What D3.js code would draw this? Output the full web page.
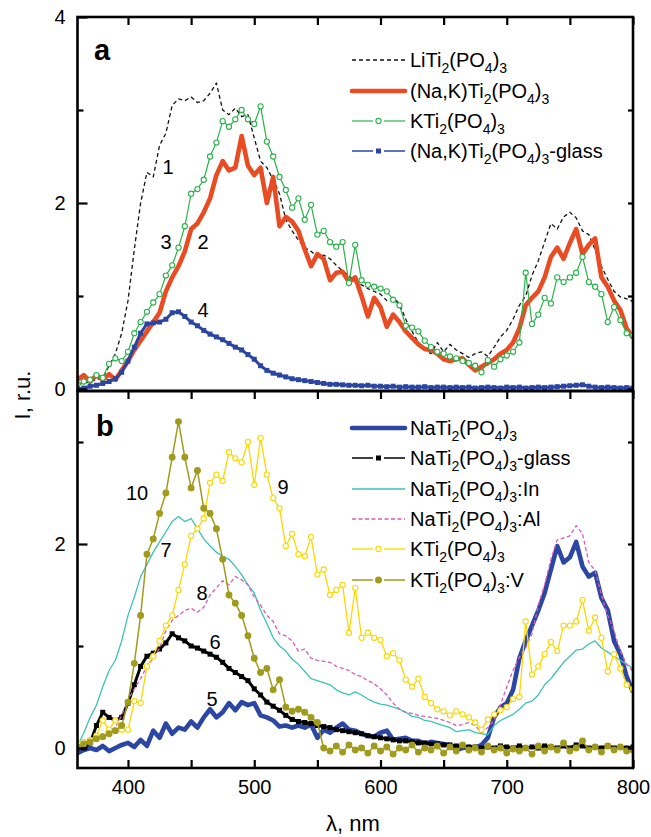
<!DOCTYPE html>
<html>
<head>
<meta charset="utf-8">
<script src="https://cdn.jsdelivr.net/npm/d3@7"></script>
<style>
  body { margin: 0; background: #fff; }
  svg { display: block; font-family: "Liberation Sans", Arial, sans-serif; }
</style>
</head>
<body>
<div id="chart"></div>
<script>
// --- DATA (5 nm grid) ---
const wavelengths = d3.range(360, 801, 5);

// panel a
const liTi = [
  0.05, 0.06, 0.08, 0.1, 0.12, 0.25, 0.38, 0.6, 0.95, 1.5,
  2.0, 2.33, 2.28, 2.62, 2.75, 3.05, 3.12, 3.1, 3.14, 3.08,
  3.1, 3.18, 3.29, 3.0, 2.95, 3.02, 2.93, 2.95, 2.7, 2.45,
  2.38, 2.25, 2.1, 1.82, 1.7, 1.6, 1.52, 1.48, 1.42, 1.44,
  1.4, 1.33, 1.27, 1.22, 1.15, 1.12, 1.08, 1.05, 1.02, 0.95,
  0.98, 0.92, 0.75, 0.62, 0.5, 0.42, 0.38, 0.5, 0.4, 0.48,
  0.42, 0.38, 0.34, 0.38, 0.4, 0.35, 0.45, 0.56, 0.63, 0.75,
  0.9, 1.0, 1.22, 1.38, 1.58, 1.78, 1.72, 1.85, 1.9, 1.84,
  1.7, 1.66, 1.5, 1.32, 1.18, 1.05, 0.99, 0.97, 0.94
];
const naKTi = [
  0.1, 0.15, 0.08, 0.15, 0.1, 0.16, 0.1, 0.2, 0.3, 0.42,
  0.52, 0.62, 0.72, 0.82, 1.05, 1.2, 1.32, 1.48, 1.72, 1.78,
  1.9, 2.05, 2.3, 2.45, 2.35, 2.38, 2.72, 2.4, 2.3, 2.38,
  2.0, 2.28, 1.75, 1.85, 1.8, 1.7, 1.5, 1.32, 1.45, 1.4,
  1.17, 1.25, 1.26, 1.15, 1.2, 1.0, 0.78, 0.98, 0.88, 0.67,
  0.8, 0.72, 0.62, 0.55, 0.48, 0.43, 0.42, 0.38, 0.32, 0.3,
  0.32, 0.33, 0.26, 0.2, 0.24, 0.28, 0.32, 0.38, 0.42, 0.5,
  0.65, 0.9, 0.98, 1.05, 1.2, 1.42, 1.52, 1.4, 1.57, 1.72,
  1.45, 1.55, 1.62, 1.2, 1.1, 0.95, 0.85, 0.65, 0.55
];
const kTiA = [
  0.05, 0.08, 0.1, 0.15, 0.12, 0.27, 0.33, 0.3, 0.4, 0.6,
  0.72, 0.83, 0.93, 1.02, 1.22, 1.33, 1.52, 1.75, 2.1, 2.15,
  2.25, 2.5, 2.65, 2.88, 2.82, 2.9, 3.0, 2.9, 2.85, 3.04,
  2.66, 2.5, 2.28, 2.14, 1.95, 2.05, 1.82, 1.98, 1.66, 1.7,
  1.58, 1.53, 1.58, 1.14, 1.55, 1.17, 1.12, 1.1, 1.08, 1.05,
  0.96, 0.9, 0.68, 0.66, 0.62, 0.52, 0.45, 0.4, 0.38, 0.35,
  0.33, 0.3, 0.28, 0.25, 0.18, 0.31, 0.24, 0.32, 0.36, 0.4,
  0.5, 1.25, 0.7, 0.8, 0.98, 0.92, 1.2, 1.15, 1.2, 1.25,
  1.42, 1.15, 1.1, 1.02, 0.72, 0.88, 0.74, 0.6, 0.58
];
const naKGlass = [
  0.0, 0.01, 0.03, 0.04, 0.06, 0.08, 0.11, 0.18, 0.3, 0.45,
  0.6, 0.7, 0.71, 0.72, 0.75, 0.82, 0.83, 0.78, 0.72, 0.68,
  0.63, 0.59, 0.56, 0.53, 0.49, 0.45, 0.42, 0.37, 0.32, 0.25,
  0.2, 0.17, 0.15, 0.13, 0.11, 0.1, 0.09, 0.08, 0.07, 0.06,
  0.05, 0.05, 0.045, 0.04, 0.04, 0.035, 0.04, 0.03, 0.03, 0.025,
  0.03, 0.02, 0.025, 0.02, 0.02, 0.025, 0.015, 0.02, 0.02, 0.015,
  0.02, 0.015, 0.02, 0.01, 0.015, 0.02, 0.015, 0.01, 0.02, 0.015,
  0.02, 0.01, 0.015, 0.02, 0.015, 0.02, 0.025, 0.03, 0.035, 0.04,
  0.045, 0.03, 0.02, 0.015, 0.02, 0.015, 0.01, 0.015, 0.01
];

// panel b
const naTi = [
  -0.05, -0.02, 0.0, -0.02, 0.02, -0.03, 0.0, 0.03, 0.05, 0.01,
  0.08, 0.02, 0.17, 0.1, 0.24, 0.14, 0.2, 0.18, 0.26, 0.2,
  0.3, 0.38, 0.3, 0.35, 0.44, 0.37, 0.45, 0.42, 0.44, 0.32,
  0.3, 0.27, 0.21, 0.22, 0.2, 0.22, 0.2, 0.23, 0.1, 0.18,
  0.15, 0.2, 0.24, 0.18, 0.17, 0.14, 0.12, 0.11, 0.15, 0.17,
  0.08, 0.09, 0.1, 0.07, 0.07, 0.04, 0.06, 0.05, 0.04, 0.03,
  -0.02, 0.0, 0.01, 0.0, 0.03, 0.1, 0.3, 0.4, 0.44, 0.57,
  0.88, 1.05, 1.2, 1.35, 1.52, 1.75, 1.98, 1.82, 1.87, 2.02,
  1.78, 1.68, 1.72, 1.47, 1.35, 1.05, 0.92, 0.7, 0.55
];
const naGlass = [
  0.0, 0.0, 0.05, 0.22, 0.35, 0.3, 0.27, 0.3, 0.44, 0.62,
  0.8, 0.9, 0.93, 0.97, 1.03, 1.12, 1.08, 1.05, 1.0, 0.98,
  0.95, 0.92, 0.89, 0.84, 0.78, 0.74, 0.7, 0.66, 0.58, 0.52,
  0.45, 0.41, 0.37, 0.32, 0.28, 0.26, 0.25, 0.24, 0.22, 0.21,
  0.2, 0.18, 0.17, 0.16, 0.15, 0.14, 0.12, 0.11, 0.1, 0.09,
  0.08, 0.07, 0.07, 0.06, 0.05, 0.05, 0.04, 0.04, 0.03, 0.03,
  0.02, 0.02, 0.01, 0.01, 0.0, 0.01, 0.0, 0.02, 0.01, 0.0,
  0.02, 0.0, 0.01, 0.0, 0.02, 0.01, 0.0, 0.02, 0.0, 0.03,
  0.02, 0.0, 0.01, 0.0, 0.02, 0.0, 0.01, 0.0, 0.01
];
const naIn = [
  0.02, 0.15, 0.3, 0.42, 0.6, 0.76, 0.86, 1.05, 1.3, 1.48,
  1.68, 1.8, 1.92, 2.02, 2.12, 2.22, 2.27, 2.22, 2.25, 2.15,
  2.05, 1.98, 1.92, 1.88, 1.85, 1.78, 1.7, 1.6, 1.52, 1.35,
  1.22, 1.08, 1.0, 0.95, 0.87, 0.82, 0.75, 0.68, 0.66, 0.64,
  0.62, 0.57, 0.54, 0.52, 0.55, 0.52, 0.48, 0.45, 0.43, 0.42,
  0.4, 0.38, 0.35, 0.31, 0.3, 0.27, 0.26, 0.24, 0.22, 0.2,
  0.16, 0.17, 0.18, 0.15, 0.14, 0.13, 0.22, 0.27, 0.3, 0.33,
  0.38, 0.44, 0.46, 0.52, 0.62, 0.68, 0.76, 0.84, 0.9, 0.96,
  0.97, 1.02, 1.05, 0.98, 0.94, 0.9, 0.86, 0.82, 0.78
];
const naAl = [
  0.0, 0.02, 0.05, 0.1, 0.14, 0.17, 0.2, 0.32, 0.47, 0.58,
  0.68, 0.8, 0.88, 0.98, 1.15, 1.25, 1.3, 1.35, 1.37, 1.33,
  1.38, 1.5, 1.57, 1.64, 1.6, 1.68, 1.65, 1.6, 1.48, 1.4,
  1.3, 1.24, 1.12, 1.1, 1.05, 0.95, 0.97, 0.88, 0.86, 0.85,
  0.84, 0.8, 0.78, 0.76, 0.72, 0.7, 0.66, 0.63, 0.58, 0.52,
  0.44, 0.38, 0.35, 0.34, 0.32, 0.31, 0.3, 0.29, 0.27, 0.25,
  0.22, 0.23, 0.25, 0.22, 0.15, 0.2, 0.27, 0.42, 0.6, 0.76,
  0.89, 0.98, 1.12, 1.4, 1.6, 1.85, 2.04, 2.06, 2.08, 2.18,
  2.1, 1.82, 1.74, 1.5, 1.3, 1.15, 0.95, 0.82, 0.75
];
const kTiB = [
  0.05, 0.06, 0.08, 0.12, 0.27, 0.18, 0.27, 0.18, 0.18, 0.46,
  0.44, 0.8, 0.9, 1.05, 1.2, 1.3, 1.55, 1.8, 2.08, 2.15,
  2.25, 2.6, 2.68, 2.62, 2.9, 2.84, 2.8, 3.0, 2.58, 3.04,
  2.68, 2.45, 2.35, 1.98, 2.1, 1.9, 1.88, 2.07, 1.7, 1.75,
  1.5, 1.55, 1.6, 1.13, 1.57, 1.08, 1.13, 1.08, 1.06, 0.9,
  0.93, 0.86, 0.67, 0.6, 0.68, 0.5, 0.44, 0.38, 0.36, 0.32,
  0.36, 0.33, 0.3, 0.25, 0.18, 0.28, 0.33, 0.37, 0.4, 0.48,
  0.5, 1.24, 0.72, 0.8, 0.92, 1.04, 0.95, 1.2, 1.2, 1.24,
  1.45, 1.15, 1.28, 1.08, 0.75, 0.92, 0.78, 0.62, 0.58
];
const kTiV = [
  0.01, 0.04, 0.06, 0.09, 0.11, 0.14, 0.17, 0.22, 0.45, 0.83,
  1.3, 1.9, 2.05, 2.3, 2.5, 2.85, 3.2, 2.85, 2.55, 2.72,
  2.35, 2.3, 2.15, 1.85, 1.5, 1.42, 1.3, 1.1, 0.88, 0.74,
  0.78, 0.57, 0.67, 0.4, 0.36, 0.38, 0.35, 0.3, 0.25, 0.0,
  -0.03, 0.02, -0.04, 0.03, -0.02, 0.0, -0.05, 0.02, -0.03, 0.01,
  -0.06, 0.0, -0.02, 0.03, -0.04, 0.0, -0.02, 0.02, -0.05, 0.01,
  -0.03, 0.03, -0.02, 0.0, -0.04, 0.02, -0.02, 0.0, -0.05, -0.01,
  -0.03, 0.0, -0.06, 0.02, -0.03, 0.01, -0.02, 0.05, -0.03, 0.0,
  0.07, -0.02, 0.01, -0.04, 0.02, -0.02, 0.01, -0.03, -0.02
];

const xMajor = [400, 500, 600, 700, 800];
const xMinor = [450, 550, 650, 750];

// --- SETUP ---
const W = 651, H = 837;
const svg = d3.select("#chart").append("svg").attr("width", W).attr("height", H);

const x = d3.scaleLinear().domain([360, 800]).range([77.5, 633]);
const yA = d3.scaleLinear().domain([0, 4]).range([389, 17]);
const yB = d3.scaleLinear().domain([0, 2]).range([748, 544]);

const panels = [
  { key: "a", y: yA, top: 17, bottom: 391, major: [0, 2, 4], minor: [1, 3], right: [0, 1, 2, 3] },
  { key: "b", y: yB, top: 391, bottom: 768, major: [0, 2], minor: [1, 3], right: [0, 1, 2, 3] }
];

const seriesA = [
  { name: "LiTi_2(PO_4)_3", values: liTi, color: "#111", width: 1.3, dash: "4,3" },
  { name: "(Na,K)Ti_2(PO_4)_3", values: naKTi, color: "#e94b22", width: 4.6 },
  { name: "KTi_2(PO_4)_3", values: kTiA, color: "#2bb24c", width: 1.2, marker: "open" },
  { name: "(Na,K)Ti_2(PO_4)_3-glass", values: naKGlass, color: "#2b45a3", width: 3, marker: "square" }
];
const seriesB = [
  { name: "NaTi_2(PO_4)_3", values: naTi, color: "#2c47a3", width: 4.6 },
  { name: "NaTi_2(PO_4)_3-glass", values: naGlass, color: "#000", width: 3, marker: "square" },
  { name: "NaTi_2(PO_4)_3:In", values: naIn, color: "#3cc2b6", width: 1.3 },
  { name: "NaTi_2(PO_4)_3:Al", values: naAl, color: "#d65db6", width: 1.3, dash: "4,2.5" },
  { name: "KTi_2(PO_4)_3", values: kTiB, color: "#fad800", width: 1.3, marker: "open" },
  { name: "KTi_2(PO_4)_3:V", values: kTiV, color: "#a19b1d", width: 1.5, marker: "filled" }
];

// clip paths
const defs = svg.append("defs");
panels.forEach(p => {
  defs.append("clipPath").attr("id", "clip-" + p.key)
    .append("rect").attr("x", x.range()[0]).attr("y", p.top)
    .attr("width", x.range()[1] - x.range()[0]).attr("height", p.bottom - p.top);
});

function drawSeries(g, p, s) {
  const pts = wavelengths.map((w, i) => [x(w), p.y(s.values[i])]);
  const line = d3.line();
  g.append("path").attr("d", line(pts))
    .attr("fill", "none").attr("stroke", s.color).attr("stroke-width", s.width)
    .attr("stroke-linejoin", "round")
    .attr("stroke-dasharray", s.dash || null);
  if (s.marker === "open" || s.marker === "filled") {
    g.append("g").selectAll("circle").data(pts).join("circle")
      .attr("cx", d => d[0]).attr("cy", d => d[1]).attr("r", s.marker === "open" ? 2.6 : 2.9)
      .attr("fill", s.marker === "open" ? "#fff" : s.color)
      .attr("stroke", s.color).attr("stroke-width", 1.1);
  } else if (s.marker === "square") {
    g.append("g").selectAll("rect").data(pts).join("rect")
      .attr("x", d => d[0] - 2.5).attr("y", d => d[1] - 2.5)
      .attr("width", 5).attr("height", 5).attr("fill", s.color);
  }
}

const gA = svg.append("g").attr("clip-path", "url(#clip-a)");
seriesA.forEach(s => drawSeries(gA, panels[0], s));
const gB = svg.append("g").attr("clip-path", "url(#clip-b)");
seriesB.forEach(s => drawSeries(gB, panels[1], s));

// --- AXES ---
const axisFont = "20px";
panels.forEach(p => {
  const left = svg.append("g").attr("transform", `translate(${x.range()[0]},0)`)
    .call(d3.axisLeft(p.y).tickValues(p.major).tickFormat(d3.format("d")).tickSize(-10).tickPadding(12));
  left.append("g").call(d3.axisLeft(p.y).tickValues(p.minor).tickFormat("").tickSize(-6));
  const right = svg.append("g").attr("transform", `translate(${x.range()[1]},0)`)
    .call(d3.axisRight(p.y).tickValues(p.right).tickFormat("").tickSize(-5));
  const top = svg.append("g").attr("transform", `translate(0,${p.top})`)
    .call(d3.axisTop(x).tickValues(xMajor.concat(xMinor)).tickFormat("").tickSize(-8));
  [left, right, top].forEach(a => {
    a.selectAll(".domain").remove();
    a.selectAll("line").attr("stroke", "#000").attr("stroke-width", 2.2);
    a.selectAll("text").attr("fill", "#000").style("font-size", axisFont).style("font-family", "Liberation Sans, Arial, sans-serif");
  });
});
const bottom = svg.append("g").attr("transform", `translate(0,768)`)
  .call(d3.axisBottom(x).tickValues(xMajor).tickFormat(d3.format("d")).tickSize(-8).tickPadding(12));
bottom.append("g").call(d3.axisBottom(x).tickValues(xMinor).tickFormat("").tickSize(-8));
bottom.selectAll(".domain").remove();
bottom.selectAll("line").attr("stroke", "#000").attr("stroke-width", 2.2);
bottom.selectAll("text").attr("fill", "#000").style("font-size", axisFont).style("font-family", "Liberation Sans, Arial, sans-serif");

// frames
panels.forEach(p => {
  svg.append("rect").attr("x", x.range()[0]).attr("y", p.top)
    .attr("width", x.range()[1] - x.range()[0]).attr("height", p.bottom - p.top)
    .attr("fill", "none").attr("stroke", "#000").attr("stroke-width", 2.6);
});

// axis titles
svg.append("text").attr("transform", "translate(30,395) rotate(-90)")
  .attr("text-anchor", "middle").style("font-size", "22px").text("I, r.u.");
svg.append("text").attr("x", 353).attr("y", 831)
  .attr("text-anchor", "middle").style("font-size", "22px").text("λ, nm");

// panel letters
svg.append("text").attr("x", 94).attr("y", 60).style("font-size", "29px").style("font-weight", "bold").text("a");
svg.append("text").attr("x", 96).attr("y", 436).style("font-size", "29px").style("font-weight", "bold").text("b");

// --- LEGENDS ---
function addRichText(sel, label) {
  const parts = label.split(/_(\d)/);
  parts.forEach((t, i) => {
    if (!t) return;
    const sub = i % 2 === 1;
    sel.append("tspan").text(t)
      .attr("dy", sub ? 6 : (i > 1 ? -6 : 0))
      .style("font-size", sub ? "14px" : null);
  });
}

function legend(series, rows) {
  series.forEach((s, i) => {
    const yy = rows[i];
    const g = svg.append("g");
    if (s.marker) {
      const lw = Math.min(s.width, 1.5);
      g.append("line").attr("x1", 352).attr("x2", 373).attr("y1", yy).attr("y2", yy)
        .attr("stroke", s.color).attr("stroke-width", lw);
      g.append("line").attr("x1", 384).attr("x2", 405).attr("y1", yy).attr("y2", yy)
        .attr("stroke", s.color).attr("stroke-width", lw);
      if (s.marker === "square") {
        g.append("rect").attr("x", 376).attr("y", yy - 2.5).attr("width", 5).attr("height", 5).attr("fill", s.color);
      } else {
        g.append("circle").attr("cx", 378.5).attr("cy", yy).attr("r", s.marker === "open" ? 2.6 : 2.9)
          .attr("fill", s.marker === "open" ? "#fff" : s.color)
          .attr("stroke", s.color).attr("stroke-width", 1.1);
      }
    } else {
      g.append("line").attr("x1", 352).attr("x2", 405).attr("y1", yy).attr("y2", yy)
        .attr("stroke", s.color).attr("stroke-width", s.width)
        .attr("stroke-linecap", s.width > 3 ? "round" : null)
        .attr("stroke-dasharray", s.dash || null);
    }
    const t = g.append("text").attr("x", 410).attr("y", yy + 7).style("font-size", "20px");
    addRichText(t, s.name);
  });
}
legend(seriesA, [60, 91, 121, 151]);
legend(seriesB, [428, 458, 489, 519, 549, 580]);

// curve numbers
const curveLabelsA = [
  { text: "1", x: 168, y: 174 }, { text: "2", x: 203, y: 249 },
  { text: "3", x: 166, y: 249 }, { text: "4", x: 203, y: 317 }
];
const curveLabelsB = [
  { text: "10", x: 137, y: 500 }, { text: "7", x: 166, y: 557 }, { text: "8", x: 202, y: 600 },
  { text: "6", x: 215, y: 649 }, { text: "5", x: 212, y: 706 }, { text: "9", x: 283, y: 494 }
];
svg.append("g").selectAll("text").data(curveLabelsA.concat(curveLabelsB)).join("text")
  .attr("x", d => d.x).attr("y", d => d.y).attr("text-anchor", "middle")
  .style("font-size", "20px").text(d => d.text);
</script>
</body>
</html>
